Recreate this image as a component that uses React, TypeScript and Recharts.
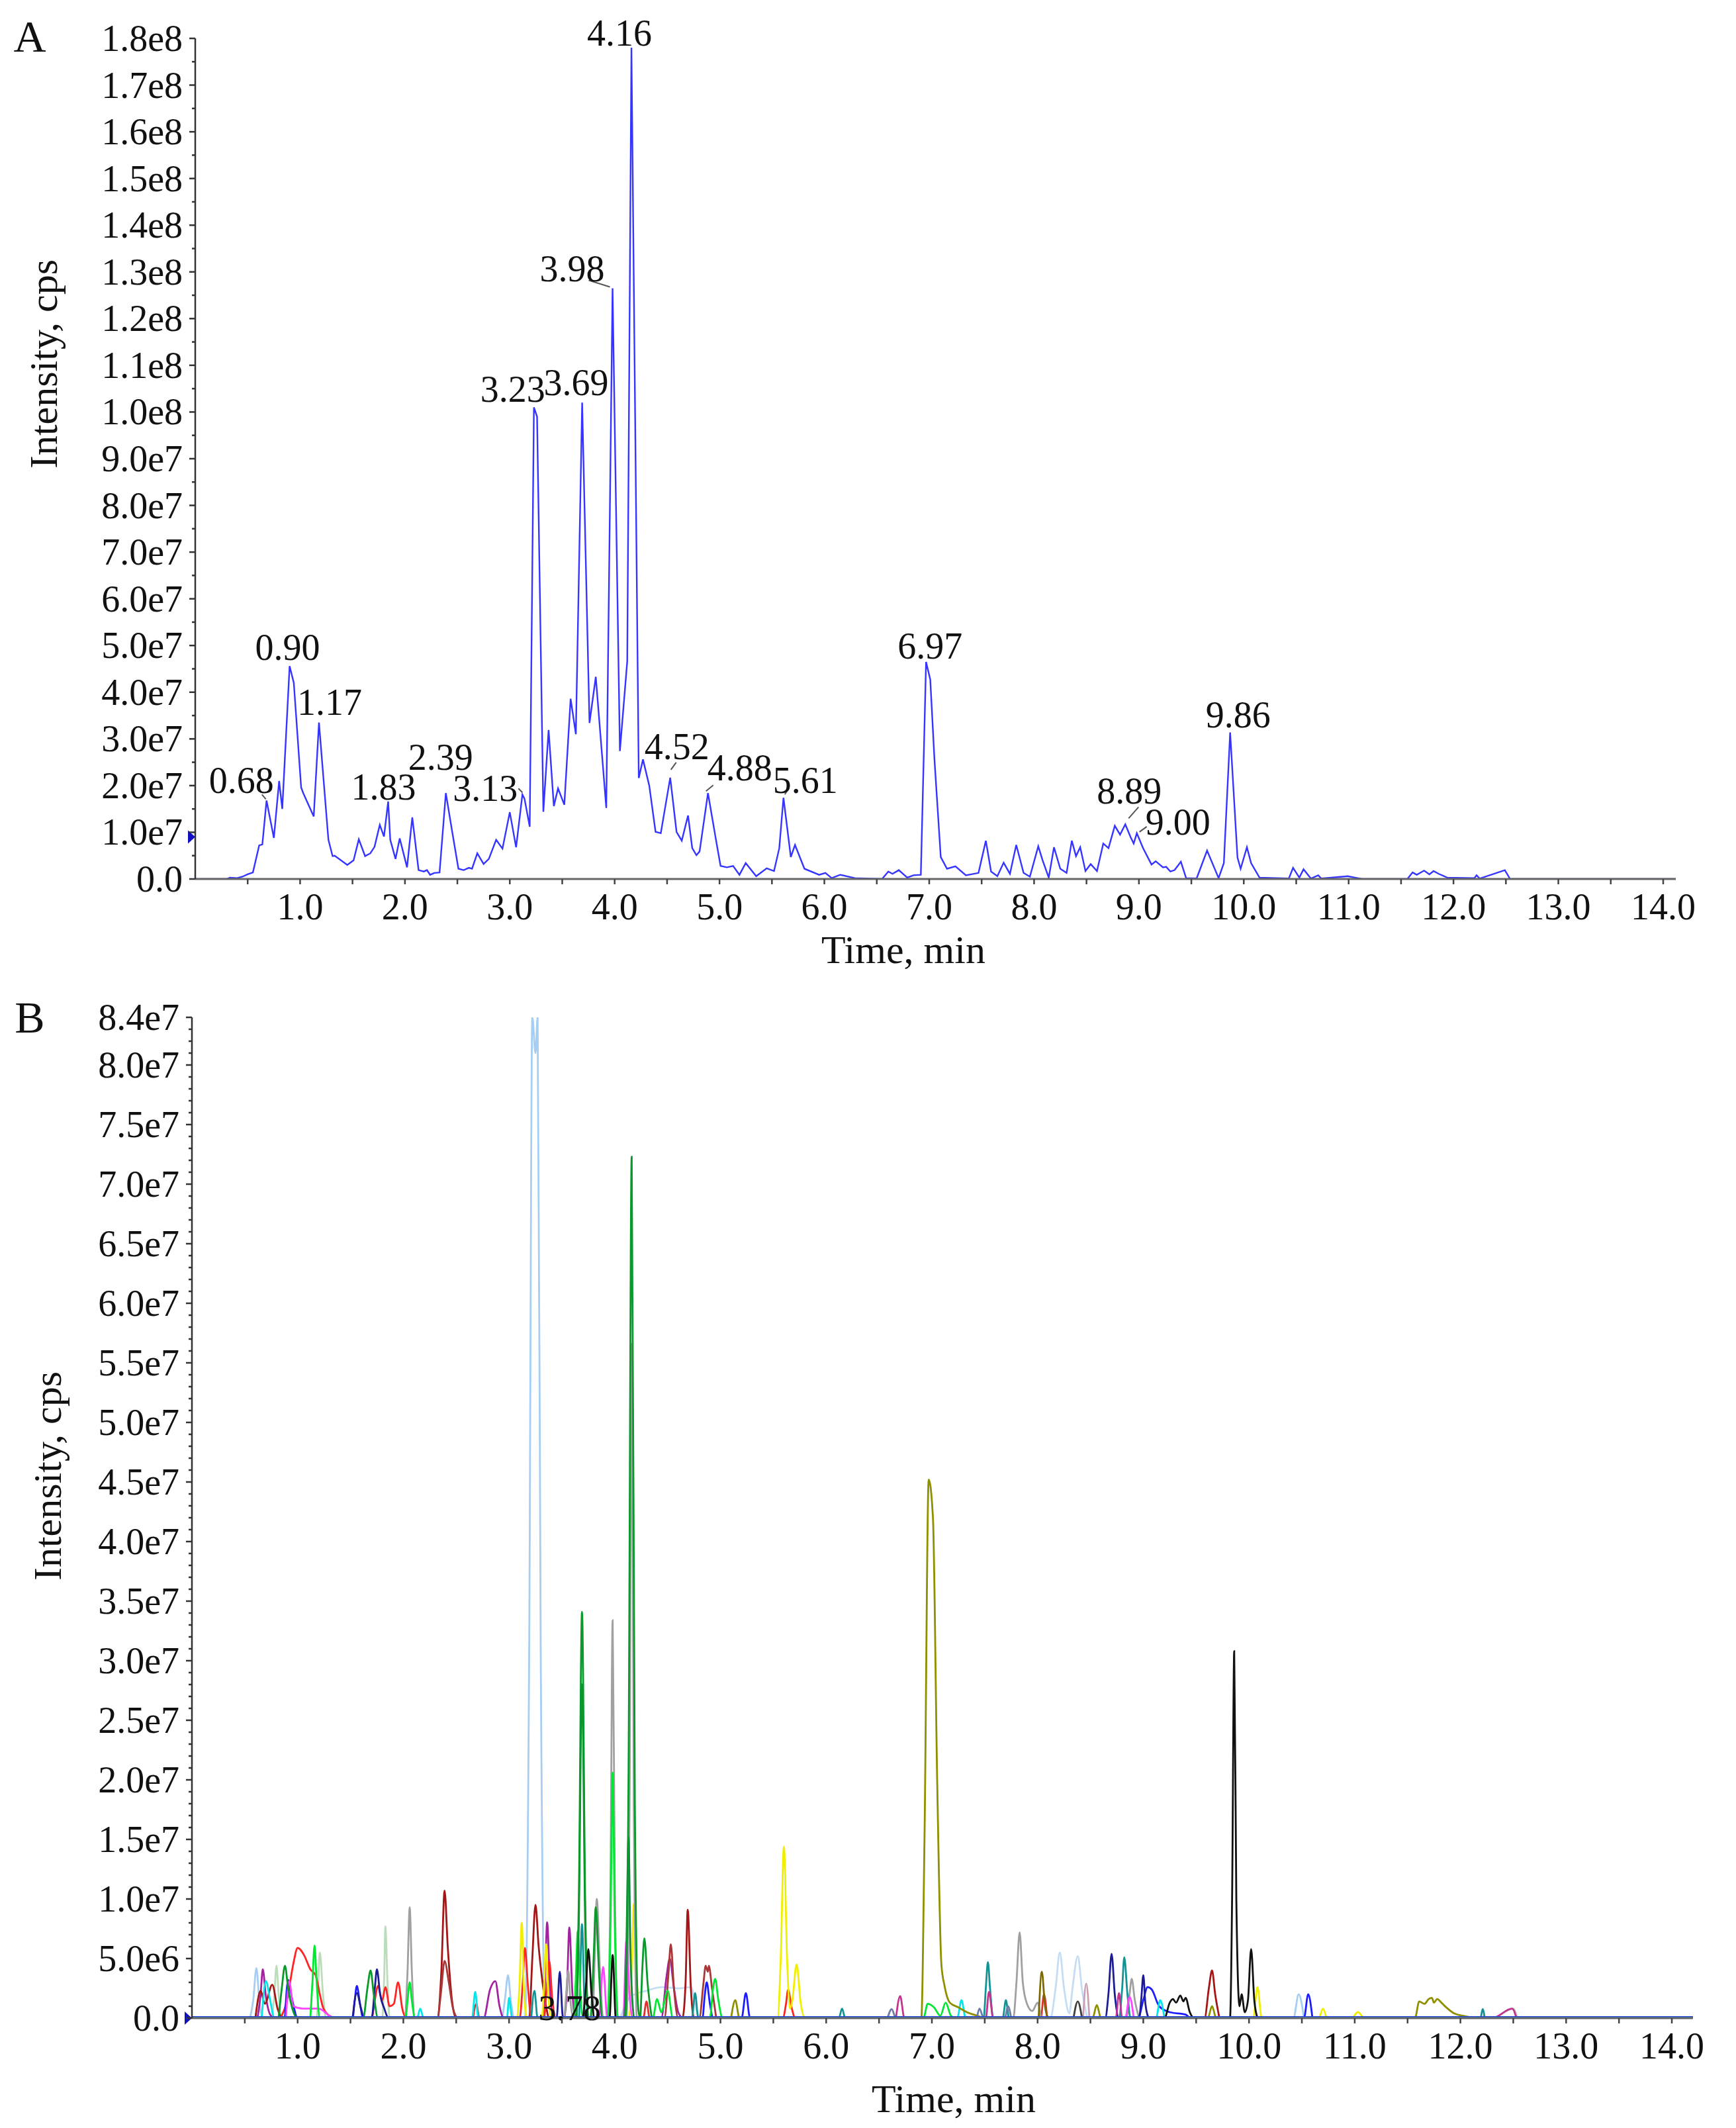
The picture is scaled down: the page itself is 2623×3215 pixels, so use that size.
import { LineChart, Line, XAxis, YAxis, ReferenceDot } from 'recharts';

const FONT = '"Liberation Serif", "Times New Roman", serif';

// ---------- panel A: total ion chromatogram, [time min, intensity x1e7 cps] ----------
const ticPoints: [number, number][] = [
  [0, 0], [0.3, 0], [0.33, 0.03], [0.4, 0.02], [0.45, 0.05], [0.5, 0.1], [0.55, 0.14], [0.61, 0.72],
  [0.64, 0.74], [0.68, 1.68], [0.75, 0.88], [0.8, 2.1], [0.83, 1.5], [0.9, 4.56], [0.94, 4.2],
  [1.01, 1.96], [1.03, 1.84], [1.13, 1.34], [1.18, 3.35], [1.27, 0.84], [1.31, 0.49], [1.33, 0.5],
  [1.45, 0.3], [1.51, 0.4], [1.56, 0.85], [1.62, 0.49], [1.67, 0.55], [1.71, 0.69], [1.76, 1.16],
  [1.8, 0.91], [1.84, 1.66], [1.86, 0.84], [1.91, 0.43], [1.95, 0.87], [2.02, 0.25], [2.07, 1.32],
  [2.13, 0.19], [2.18, 0.16], [2.21, 0.19], [2.24, 0.09], [2.28, 0.13], [2.33, 0.14], [2.39, 1.84],
  [2.45, 1.02], [2.51, 0.22], [2.56, 0.19], [2.61, 0.24], [2.64, 0.22], [2.69, 0.55], [2.75, 0.32],
  [2.8, 0.43], [2.87, 0.84], [2.93, 0.65], [3.0, 1.43], [3.06, 0.68], [3.12, 1.81], [3.14, 1.72],
  [3.19, 1.12], [3.23, 10.1], [3.26, 9.9], [3.32, 1.44], [3.37, 3.19], [3.42, 1.56], [3.46, 1.94],
  [3.52, 1.59], [3.58, 3.86], [3.63, 3.1], [3.69, 10.2], [3.76, 3.34], [3.82, 4.33], [3.92, 1.52],
  [3.98, 12.65], [4.05, 2.74], [4.12, 4.66], [4.16, 17.8], [4.23, 2.16], [4.27, 2.56], [4.33, 2.0],
  [4.39, 1.01], [4.44, 0.98], [4.53, 2.17], [4.59, 1.01], [4.64, 0.82], [4.7, 1.36], [4.74, 0.66],
  [4.78, 0.51], [4.81, 0.59], [4.89, 1.84], [4.97, 0.79], [5.01, 0.28], [5.07, 0.25], [5.13, 0.28],
  [5.19, 0.09], [5.25, 0.34], [5.35, 0.06], [5.45, 0.23], [5.52, 0.17], [5.57, 0.66], [5.61, 1.74],
  [5.68, 0.47], [5.72, 0.73], [5.81, 0.22], [5.95, 0.09], [6.01, 0.13], [6.07, 0.02], [6.15, 0.09],
  [6.29, 0.02], [6.55, 0], [6.61, 0.16], [6.65, 0.11], [6.71, 0.19], [6.79, 0.03], [6.85, 0.08],
  [6.92, 0.09], [6.97, 4.65], [7.01, 4.27], [7.05, 2.56], [7.11, 0.47], [7.17, 0.22], [7.25, 0.27],
  [7.35, 0.08], [7.47, 0.13], [7.54, 0.82], [7.59, 0.16], [7.65, 0.06], [7.71, 0.35], [7.77, 0.11],
  [7.83, 0.73], [7.9, 0.13], [7.96, 0.05], [8.04, 0.7], [8.08, 0.41], [8.14, 0.03], [8.19, 0.68],
  [8.25, 0.22], [8.31, 0.13], [8.36, 0.82], [8.4, 0.49], [8.44, 0.68], [8.49, 0.17], [8.54, 0.32],
  [8.6, 0.17], [8.66, 0.76], [8.71, 0.66], [8.77, 1.14], [8.82, 0.95], [8.87, 1.17], [8.92, 0.9],
  [8.95, 0.76], [8.98, 0.98], [9.04, 0.66], [9.12, 0.31], [9.16, 0.38], [9.23, 0.25], [9.26, 0.26],
  [9.3, 0.16], [9.34, 0.19], [9.4, 0.37], [9.45, 0.02], [9.55, 0.01], [9.65, 0.61], [9.76, 0.02],
  [9.81, 0.34], [9.87, 3.14], [9.94, 0.46], [9.97, 0.22], [10.03, 0.68], [10.07, 0.34], [10.15, 0.03],
  [10.43, 0.01], [10.47, 0.24], [10.53, 0.03], [10.57, 0.21], [10.64, 0.01], [10.71, 0.08],
  [10.74, 0.01], [10.99, 0.06], [11.06, 0.03], [11.13, 0], [11.56, 0], [11.61, 0.14], [11.65, 0.09],
  [11.72, 0.18], [11.77, 0.1], [11.81, 0.17], [11.86, 0.11], [11.94, 0.03], [12.2, 0.02],
  [12.22, 0.08], [12.25, 0.01], [12.49, 0.19], [12.54, 0], [14.12, 0],
];

// labelled peaks of panel A
const peakTexts = ['0.68', '0.90', '1.17', '1.83', '2.39', '3.13', '3.23', '3.69', '3.98', '4.16',
  '4.52', '4.88', '5.61', '6.97', '8.89', '9.00', '9.86'];
const peakTimes = [0.68, 0.9, 1.18, 1.84, 2.39, 3.12, 3.23, 3.69, 3.98, 4.16, 4.53, 4.89, 5.61, 6.97, 8.87, 8.98, 9.87];
const peakHeights = [1.68, 4.56, 3.35, 1.66, 1.84, 1.81, 10.1, 10.2, 12.65, 17.8, 2.17, 1.84, 1.74, 4.65, 1.17, 0.98, 3.14];

// ---------- panel B: extracted ion chromatograms, [time min, intensity x1e6 cps] ----------
const xicLightBlue: [number, number][] = [
  [0.55, 0], [0.58, 1.5], [0.61, 4.2], [0.64, 1.2], [0.67, 0],
  [2.93, 0], [2.96, 1.5], [2.99, 3.6], [3.02, 1.2], [3.05, 0],
  [3.15, 0], [3.19, 30], [3.22, 84], [3.25, 81], [3.27, 84], [3.3, 30], [3.34, 0],
  [10.42, 0], [10.47, 2.0], [10.52, 0],
];
const xicPaleBlue: [number, number][] = [
  [4.05, 0], [4.15, 1.8], [4.3, 2.3], [4.45, 2.6], [4.6, 2.5], [4.72, 2.6], [4.78, 0.5], [4.82, 0],
  [8.12, 0], [8.17, 2.5], [8.21, 5.5], [8.25, 2.5], [8.3, 0.4], [8.33, 2.5], [8.38, 5.2], [8.42, 2.4], [8.47, 0],
];
const xicPurple: [number, number][] = [
  [0.62, 0], [0.65, 2], [0.67, 4.1], [0.7, 1.8], [0.74, 0.3], [0.78, 0],
  [2.76, 0], [2.82, 2.4], [2.87, 3.1], [2.91, 1.0], [2.95, 0],
  [3.31, 0], [3.34, 3], [3.36, 8.05], [3.39, 2], [3.42, 0],
  [3.52, 0], [3.55, 3], [3.57, 7.6], [3.6, 2], [3.63, 0],
  [4.44, 0], [4.49, 3.5], [4.52, 5.0], [4.56, 2.5], [4.6, 0.5], [4.64, 0],
];
const xicDarkRed: [number, number][] = [
  [0.6, 0], [0.65, 2.3], [0.69, 1.2], [0.76, 2.8], [0.81, 0.8], [0.86, 0],
  [2.32, 0], [2.36, 4], [2.39, 10.7], [2.42, 6], [2.46, 1.5], [2.5, 0],
  [3.19, 0], [3.22, 5], [3.25, 9.5], [3.28, 6], [3.31, 3.5], [3.35, 1], [3.38, 0],
  [4.64, 0], [4.67, 3], [4.69, 9.1], [4.72, 2.5], [4.75, 0],
  [9.58, 0], [9.62, 2.5], [9.65, 4.0], [9.68, 2], [9.72, 0],
];
const xicBrown: [number, number][] = [
  [2.33, 0], [2.36, 2.5], [2.39, 4.8], [2.43, 3.0], [2.47, 0.8], [2.52, 0],
  [4.47, 0], [4.51, 4], [4.53, 6.2], [4.56, 2.5], [4.6, 0],
  [4.8, 0], [4.84, 3], [4.86, 4.4], [4.88, 3.9], [4.89, 4.4], [4.92, 2.5], [4.96, 0],
];
const xicRed: [number, number][] = [
  [0.84, 0], [0.9, 1.5], [0.96, 4.6], [1.0, 5.9], [1.06, 5.3], [1.12, 4.1], [1.17, 3.6], [1.21, 2.0],
  [1.24, 0.9], [1.3, 0.2], [1.36, 0],
  [1.7, 0], [1.73, 1.5], [1.76, 2.7], [1.8, 1.5], [1.83, 2.6], [1.87, 1.0], [1.91, 1.2], [1.95, 3.0], [1.99, 0.8], [2.03, 0],
  [3.1, 0], [3.13, 3], [3.15, 5.9], [3.18, 2.5], [3.21, 0],
  [3.33, 0], [3.36, 3], [3.38, 4.8], [3.41, 1.5], [3.44, 0],
  [5.59, 0], [5.62, 1.2], [5.64, 2.4], [5.67, 1.0], [5.7, 0],
];
const xicRed2: [number, number][] = [
  [2.66, 0], [2.69, 1.2], [2.72, 0],
  [4.27, 0], [4.3, 1.4], [4.33, 0],
  [8.03, 0], [8.06, 2.0], [8.09, 0],
];
const xicYellow: [number, number][] = [
  [3.08, 0], [3.1, 3], [3.12, 8.0], [3.14, 2.5], [3.17, 0],
  [3.31, 0], [3.33, 2.5], [3.35, 6.2], [3.37, 2], [3.4, 0],
  [4.13, 0], [4.16, 3], [4.18, 9.6], [4.21, 3], [4.24, 0],
  [5.54, 0], [5.57, 5], [5.6, 14.4], [5.63, 5], [5.66, 0.8], [5.68, 1.5], [5.72, 4.5], [5.76, 1.2], [5.8, 0],
  [10.04, 0], [10.08, 2.6], [10.12, 0],
  [10.66, 0], [10.7, 0.8], [10.74, 0],
  [10.97, 0], [11.03, 0.5], [11.08, 0],
];
const xicGreen: [number, number][] = [
  [0.82, 0], [0.85, 2.5], [0.88, 4.4], [0.91, 2.5], [0.95, 0.8], [1.0, 0],
  [1.62, 0], [1.66, 2.5], [1.69, 4.0], [1.72, 2], [1.76, 0],
  [3.63, 0], [3.66, 10], [3.69, 34.1], [3.72, 10], [3.75, 0],
  [3.77, 0], [3.8, 5], [3.82, 9.3], [3.85, 4], [3.88, 0],
  [4.1, 0], [4.13, 20], [4.16, 72.3], [4.19, 18], [4.22, 1], [4.24, 0],
  [4.26, 4], [4.28, 6.7], [4.31, 3], [4.35, 0],
];
const xicGreen2: [number, number][] = [
  [3.64, 0], [3.66, 8], [3.69, 28], [3.72, 8], [3.75, 0],
  [4.09, 0], [4.11, 6], [4.13, 15.2], [4.15, 5], [4.18, 0],
];
const xicLime: [number, number][] = [
  [1.12, 0], [1.14, 3], [1.16, 6.1], [1.18, 3], [1.21, 0],
  [2.02, 0], [2.04, 1.5], [2.06, 3.0], [2.08, 1.5], [2.11, 0],
  [3.61, 0], [3.63, 3], [3.65, 7.3], [3.67, 3], [3.7, 0],
  [3.93, 0], [3.96, 8], [3.98, 20.6], [4.0, 8], [4.03, 0],
  [4.36, 0], [4.4, 1.6], [4.44, 0.5], [4.5, 2.3], [4.55, 0],
  [4.9, 0], [4.93, 2.5], [4.95, 3.3], [4.98, 1.5], [5.02, 0],
  [6.92, 0], [6.96, 1.2], [7.02, 0.9], [7.08, 0.2], [7.13, 1.3], [7.18, 0.2], [7.22, 0],
];
const xicPaleGreen: [number, number][] = [
  [0.76, 0], [0.78, 2], [0.8, 4.4], [0.82, 2], [0.85, 0],
  [1.18, 0], [1.21, 5.5], [1.24, 2], [1.27, 0],
  [1.8, 0], [1.82, 4], [1.83, 7.7], [1.85, 3], [1.87, 0],
  [12.3, 0], [12.5, 0.8], [12.54, 0],
];
const xicGray: [number, number][] = [
  [2.02, 0], [2.04, 4], [2.06, 9.3], [2.08, 4], [2.11, 0],
  [3.52, 0], [3.54, 2], [3.56, 4.0], [3.58, 1.5], [3.61, 0],
  [3.79, 0], [3.81, 5], [3.83, 10], [3.86, 4], [3.89, 0],
  [3.93, 0], [3.96, 12], [3.98, 33.4], [4.0, 12], [4.03, 0],
  [4.11, 0], [4.14, 18], [4.16, 56.6], [4.18, 18], [4.21, 0],
  [7.77, 0], [7.8, 3], [7.83, 7.2], [7.86, 3], [7.9, 1.2], [7.95, 0.6], [8.0, 1.3], [8.04, 0],
  [8.84, 0], [8.87, 2], [8.89, 3.3], [8.92, 1.5], [8.96, 0],
];
const xicBlue: [number, number][] = [
  [0.88, 0], [0.91, 3.2], [0.95, 1.5], [1.0, 0],
  [1.52, 0], [1.54, 1.5], [1.56, 2.7], [1.59, 1.2], [1.62, 0],
  [4.83, 0], [4.85, 1.8], [4.87, 3.0], [4.9, 1.2], [4.93, 0],
  [5.2, 0], [5.24, 2.1], [5.28, 0],
  [8.95, 0], [9.0, 1.5], [9.04, 2.6], [9.08, 2.4], [9.15, 1.0], [9.25, 0.5], [9.4, 0.3], [9.45, 0],
  [10.52, 0], [10.56, 2.0], [10.6, 0],
];
const xicNavy: [number, number][] = [
  [1.52, 0], [1.56, 2.1], [1.6, 0.8], [1.63, 0],
  [1.7, 0], [1.73, 2.5], [1.75, 4.1], [1.78, 2], [1.82, 0.8], [1.86, 0],
  [3.45, 0], [3.48, 3.9], [3.51, 0],
  [8.64, 0], [8.67, 2], [8.7, 5.4], [8.73, 2], [8.77, 0],
  [8.96, 0], [8.98, 1.5], [9.0, 3.6], [9.02, 1.2], [9.05, 0],
];
const xicCyan: [number, number][] = [
  [0.66, 0], [0.7, 3.1], [0.74, 1.5], [0.78, 0],
  [2.13, 0], [2.16, 0.8], [2.19, 0],
  [2.65, 0], [2.68, 2.2], [2.71, 0],
  [2.98, 0], [3.0, 1.7], [3.03, 0],
  [7.24, 0], [7.28, 1.5], [7.32, 0],
  [9.12, 0], [9.16, 1.5], [9.2, 0],
];
const xicTeal: [number, number][] = [
  [3.21, 0], [3.24, 2.3], [3.27, 0],
  [3.66, 0], [3.69, 7.9], [3.72, 0],
  [4.73, 0], [4.76, 2.1], [4.79, 0],
  [6.12, 0], [6.15, 0.8], [6.18, 0],
  [7.49, 0], [7.51, 2.5], [7.53, 4.7], [7.55, 2.5], [7.58, 0],
  [7.67, 0], [7.7, 1.5], [7.73, 0],
  [8.77, 0], [8.8, 2.5], [8.82, 5.1], [8.85, 2], [8.88, 0],
  [12.19, 0], [12.21, 0.75], [12.23, 0],
];
const xicBlack: [number, number][] = [
  [3.7, 0], [3.73, 3], [3.75, 5.8], [3.78, 2], [3.81, 0],
  [3.95, 0], [3.98, 5.3], [4.01, 0],
  [9.2, 0], [9.25, 1.3], [9.28, 1.6], [9.31, 1.3], [9.35, 1.9], [9.38, 1.4], [9.4, 1.7], [9.44, 0.5], [9.48, 0],
  [9.82, 0], [9.84, 10], [9.86, 30.8], [9.88, 10], [9.91, 1], [9.93, 2.0], [9.96, 0.5], [9.99, 1.5],
  [10.02, 5.8], [10.05, 1.5], [10.08, 0],
];
const xicDarkGray: [number, number][] = [[8.34, 0], [8.38, 1.4], [8.42, 0]];
const xicPink: [number, number][] = [
  [0.89, 0], [0.92, 3.1], [0.96, 1], [1.05, 0.8], [1.2, 0.8], [1.3, 0.2], [1.35, 0],
  [3.85, 0], [3.89, 4.3], [3.93, 0],
  [4.08, 0], [4.11, 6.5], [4.14, 2], [4.17, 0],
  [8.83, 0], [8.87, 1.8], [8.91, 0],
];
const xicOlive: [number, number][] = [
  [5.1, 0], [5.14, 1.5], [5.18, 0],
  [6.9, 0], [6.93, 15], [6.97, 45.2], [7.01, 42], [7.05, 20], [7.09, 4.5], [7.12, 2.7], [7.17, 1.3],
  [7.25, 0.9], [7.33, 0.5], [7.43, 0.2], [7.5, 0],
  [8.52, 0], [8.56, 1.1], [8.6, 0],
  [9.61, 0], [9.65, 1.0], [9.69, 0],
  [11.57, 0], [11.61, 1.4], [11.66, 1.2], [11.7, 1.6], [11.73, 1.7], [11.75, 1.3], [11.78, 1.6],
  [11.82, 1.3], [11.86, 0.95], [11.94, 0.4], [12.05, 0.15], [12.15, 0],
];
const xicDarkOlive: [number, number][] = [[8.01, 0], [8.04, 3.9], [8.07, 1], [8.1, 0]];
const xicMagentaRose: [number, number][] = [
  [6.66, 0], [6.7, 1.85], [6.74, 0],
  [7.51, 0], [7.54, 2.2], [7.58, 0],
  [8.74, 0], [8.77, 2.1], [8.8, 0],
  [12.3, 0], [12.49, 0.8], [12.53, 0],
];
const xicSlate: [number, number][] = [
  [6.58, 0], [6.62, 0.75], [6.66, 0],
  [7.42, 0], [7.45, 0.8], [7.49, 0],
  [7.69, 0], [7.72, 1.0], [7.75, 0],
];
const xicMauve: [number, number][] = [[8.43, 0], [8.46, 2.9], [8.49, 0]];
const xicBaseline: [number, number][] = [[0, 0], [14.2, 0]];

// ---------- styles, kept apart from the values ----------
const xicSeries = [
  { key: 'lightBlue', pts: xicLightBlue, color: '#a6cdf2' },
  { key: 'paleBlue', pts: xicPaleBlue, color: '#c4dcf4' },
  { key: 'paleGreen', pts: xicPaleGreen, color: '#bcdcbc' },
  { key: 'purple', pts: xicPurple, color: '#a3229f' },
  { key: 'darkRed', pts: xicDarkRed, color: '#a31616' },
  { key: 'brown', pts: xicBrown, color: '#a83838' },
  { key: 'red', pts: xicRed, color: '#ff2424' },
  { key: 'red2', pts: xicRed2, color: '#e03030' },
  { key: 'yellow', pts: xicYellow, color: '#f2ee00' },
  { key: 'gray', pts: xicGray, color: '#a0a0a0' },
  { key: 'blue', pts: xicBlue, color: '#1c1cff' },
  { key: 'navy', pts: xicNavy, color: '#1c1c96' },
  { key: 'cyan', pts: xicCyan, color: '#00e6ea' },
  { key: 'teal', pts: xicTeal, color: '#129494' },
  { key: 'pink', pts: xicPink, color: '#ff44ff' },
  { key: 'olive', pts: xicOlive, color: '#8f8f00' },
  { key: 'darkOlive', pts: xicDarkOlive, color: '#7a6a00' },
  { key: 'rose', pts: xicMagentaRose, color: '#c23392' },
  { key: 'slate', pts: xicSlate, color: '#6c7ca6' },
  { key: 'mauve', pts: xicMauve, color: '#c8a0b4' },
  { key: 'darkGray', pts: xicDarkGray, color: '#404040' },
  { key: 'lime', pts: xicLime, color: '#00e832' },
  { key: 'green2', pts: xicGreen2, color: '#148a3c' },
  { key: 'green', pts: xicGreen, color: '#0a9a2c' },
  { key: 'black', pts: xicBlack, color: '#111111' },
];

const peakLabelLayout: Record<string, { dx: number; dy: number; lead?: number[] }> = {
  '0.68': { dx: -38, dy: -30, lead: [-7, -9, -1, -2] },
  '0.90': { dx: -3, dy: -28 },
  '1.17': { dx: 16, dy: -31 },
  '1.83': { dx: -7, dy: -22 },
  '2.39': { dx: -8, dy: -54 },
  '3.13': { dx: -56, dy: -9, lead: [-6, -9, 0, -3] },
  '3.23': { dx: -32, dy: -27 },
  '3.69': { dx: -9, dy: -30 },
  '3.98': { dx: -61, dy: -29, lead: [-36, -12, -4, -2] },
  '4.16': { dx: -18, dy: -22 },
  '4.52': { dx: 10, dy: -47, lead: [1, -12, 9, -23] },
  '4.88': { dx: 48, dy: -38, lead: [-3, -3, 8, -12] },
  '5.61': { dx: 33, dy: -26, lead: [2, -5, 8, -14] },
  '6.97': { dx: 6, dy: -24 },
  '8.89': { dx: 6, dy: -50, lead: [5, -9, 20, -26] },
  '9.00': { dx: 62, dy: -17, lead: [4, -2, 15, -10] },
  '9.86': { dx: 12, dy: -26 },
};

const xTicks = Array.from({ length: 28 }, (_, i) => (i + 1) * 0.5);
const yTicksA = Array.from({ length: 37 }, (_, i) => i * 5e6);
const yTicksB = Array.from({ length: 85 }, (_, i) => i * 1e6);

const ticData = ticPoints.map(([t, v]) => ({ t, v: v * 1e7 }));
const toXic = (pts: [number, number][]) => pts.map(([t, v]) => ({ t, v: v * 1e6 }));

const sci = (v: number) => {
  if (v === 0) return '0.0';
  const e = Math.floor(Math.log10(v) + 1e-9);
  return (v / Math.pow(10, e)).toFixed(1) + 'e' + e;
};

const xTick = (p: any) => {
  const { x, y, payload } = p;
  const v = payload.value as number;
  const major = Math.abs(v - Math.round(v)) < 1e-6;
  return (
    <g>
      <line x1={x} x2={x} y1={y} y2={y + 8} stroke="#444" strokeWidth={2.5} />
      {major && (
        <text x={x} y={y + 42} textAnchor="middle" dominantBaseline="central" fontSize={56} fontFamily={FONT} fill="#111">
          {v.toFixed(1)}
        </text>
      )}
    </g>
  );
};

const makeYTick = (isMajor: (v: number) => boolean) => (p: any) => {
  const { x, y, payload } = p;
  const v = payload.value as number;
  const major = isMajor(v);
  return (
    <g>
      <line x1={x - (major ? 9 : 5)} x2={x} y1={y} y2={y} stroke="#333" strokeWidth={2.5} />
      {major && (
        <text x={x - 19} y={y} textAnchor="end" dominantBaseline="central" fontSize={56} fontFamily={FONT} fill="#111">
          {sci(v)}
        </text>
      )}
    </g>
  );
};

const yTickA = makeYTick((v) => v % 1e7 === 0);
const yTickB = makeYTick((v) => v % 5e6 === 0 || v === 8.4e7);

const peakShape = (text: string) => (p: any) => {
  const { cx, cy } = p;
  const lay = peakLabelLayout[text];
  return (
    <g>
      {lay.lead && (
        <line x1={cx + lay.lead[0]} y1={cy + lay.lead[1]} x2={cx + lay.lead[2]} y2={cy + lay.lead[3]} stroke="#555" strokeWidth={2} />
      )}
      <text x={cx + lay.dx} y={cy + lay.dy} textAnchor="middle" dominantBaseline="central" fontSize={56} fontFamily={FONT} fill="#111">
        {text}
      </text>
    </g>
  );
};

const marker = (p: any) => {
  const { cx, cy } = p;
  return <polygon points={`${cx - 11},${cy - 10} ${cx - 11},${cy + 10} ${cx},${cy}`} fill="#1010c0" />;
};

const textStyle = { fontFamily: FONT, fill: '#111' };

export default function App() {
  return (
    <div style={{ position: 'absolute', left: 0, top: 0, width: 2623, height: 3215, background: '#fff' }}>
      <div style={{ position: 'absolute', left: 0, top: 0 }}>
        <LineChart width={2623} height={1480} margin={{ top: 58, right: 91, bottom: 92, left: 235 }}>
          <XAxis
            dataKey="t"
            type="number"
            domain={[0, 14.12]}
            ticks={xTicks}
            interval={0}
            height={60}
            tickSize={0}
            tickMargin={0}
            tick={xTick}
            tickLine={false}
            axisLine={{ stroke: '#666', strokeWidth: 3 }}
            allowDataOverflow
          />
          <YAxis
            type="number"
            domain={[0, 1.8e8]}
            ticks={yTicksA}
            interval={0}
            width={60}
            tickSize={0}
            tickMargin={0}
            tick={yTickA}
            tickLine={false}
            axisLine={{ stroke: '#333', strokeWidth: 2.5 }}
            allowDataOverflow
          />
          <Line
            data={ticData}
            dataKey="v"
            type="linear"
            stroke="#3535ff"
            strokeWidth={2.4}
            dot={false}
            isAnimationActive={false}
          />
          {peakTexts.map((txt, i) => (
            <ReferenceDot
              key={txt}
              x={peakTimes[i]}
              y={peakHeights[i] * 1e7}
              r={0}
              ifOverflow="visible"
              shape={peakShape(txt)}
            />
          ))}
          <ReferenceDot x={0} y={9e6} r={0} ifOverflow="visible" shape={marker} />
        </LineChart>
      </div>

      <div style={{ position: 'absolute', left: 0, top: 1400 }}>
        <LineChart width={2623} height={1815} margin={{ top: 137, right: 65, bottom: 106, left: 230 }}>
          <XAxis
            dataKey="t"
            type="number"
            domain={[0, 14.2]}
            ticks={xTicks}
            interval={0}
            height={60}
            tickSize={0}
            tickMargin={0}
            tick={xTick}
            tickLine={false}
            axisLine={{ stroke: '#666', strokeWidth: 3 }}
            allowDataOverflow
          />
          <YAxis
            type="number"
            domain={[0, 8.4e7]}
            ticks={yTicksB}
            interval={0}
            width={60}
            tickSize={0}
            tickMargin={0}
            tick={yTickB}
            tickLine={false}
            axisLine={{ stroke: '#333', strokeWidth: 2.5 }}
            allowDataOverflow
          />
          {xicSeries.map((s) => (
            <Line
              key={s.key}
              data={toXic(s.pts)}
              dataKey="v"
              type="monotone"
              stroke={s.color}
              strokeWidth={2.8}
              dot={false}
              isAnimationActive={false}
            />
          ))}
          <Line data={toXic(xicBaseline)} dataKey="v" type="linear" stroke="#2a3ad8" strokeWidth={6} dot={false} isAnimationActive={false} />
          <Line data={toXic(xicBaseline)} dataKey="v" type="linear" stroke="#12d6ee" strokeWidth={3} dot={false} isAnimationActive={false} />
          <ReferenceDot
            x={3.78}
            y={0}
            r={0}
            ifOverflow="visible"
            shape={(p: any) => (
              <text x={p.cx - 33} y={p.cy - 15} textAnchor="middle" dominantBaseline="central" fontSize={54} fontFamily={FONT} fill="#111">
                3.78
              </text>
            )}
          />
          <ReferenceDot x={0} y={0} r={0} ifOverflow="visible" shape={marker} />
        </LineChart>
      </div>

      <svg width={2623} height={3215} style={{ position: 'absolute', left: 0, top: 0, pointerEvents: 'none' }}>
        <text x={45} y={55} textAnchor="middle" dominantBaseline="central" fontSize={68} {...textStyle}>A</text>
        <text x={45} y={1537} textAnchor="middle" dominantBaseline="central" fontSize={68} {...textStyle}>B</text>
        <text x={66} y={550} textAnchor="middle" dominantBaseline="central" fontSize={60} transform="rotate(-90 66 550)" {...textStyle}>
          Intensity, cps
        </text>
        <text x={72} y={2230} textAnchor="middle" dominantBaseline="central" fontSize={60} transform="rotate(-90 72 2230)" {...textStyle}>
          Intensity, cps
        </text>
        <text x={1365} y={1435} textAnchor="middle" dominantBaseline="central" fontSize={60} {...textStyle}>Time, min</text>
        <text x={1441} y={3171} textAnchor="middle" dominantBaseline="central" fontSize={60} {...textStyle}>Time, min</text>
      </svg>
    </div>
  );
}
